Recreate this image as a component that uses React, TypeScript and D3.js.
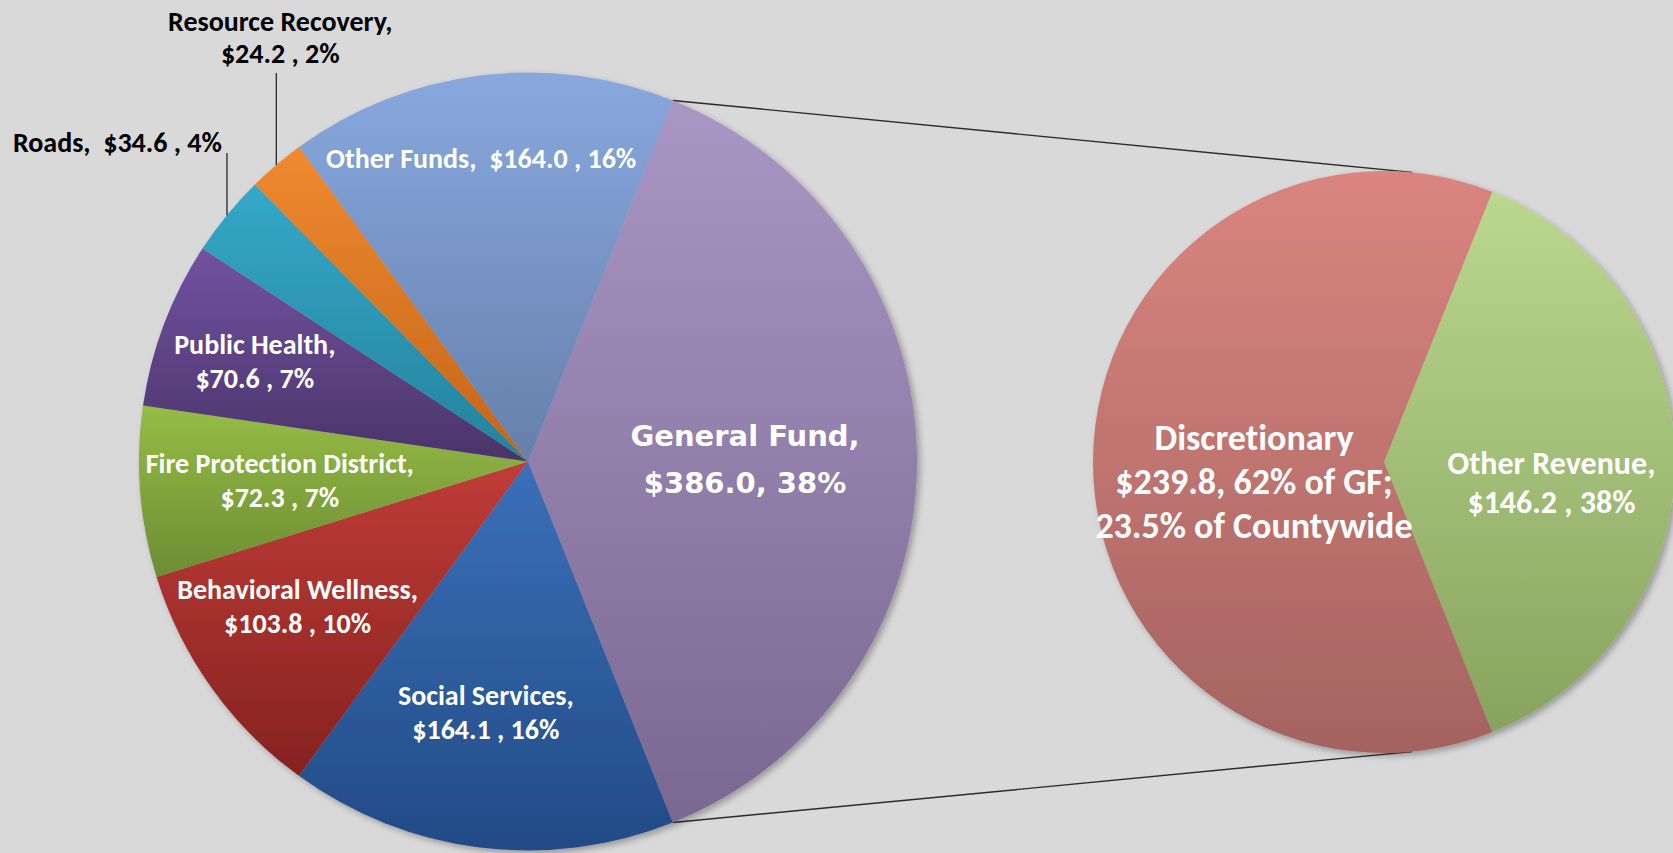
import React from 'react';
import * as d3 from 'd3';

// ---------- DATA ----------
const mainCategories = [
  'General Fund',
  'Social Services',
  'Behavioral Wellness',
  'Fire Protection District',
  'Public Health',
  'Roads',
  'Resource Recovery',
  'Other Funds',
];
const mainValues = [386.0, 164.1, 103.8, 72.3, 70.6, 34.6, 24.2, 164.0];
const mainPercents = ['38%', '16%', '10%', '7%', '7%', '4%', '2%', '16%'];

const subCategories = ['Other Revenue', 'Discretionary'];
const subValues = [146.2, 239.8];
const subPercents = ['38%', '62% of GF'];
const discretionaryExtra = '23.5% of Countywide';

// ---------- STYLE / LAYOUT ----------
const W = 1673;
const H = 853;
const BG = '#D9D9D9';
const FONT = "Carlito, Calibri, 'Liberation Sans Narrow', Lato, sans-serif";
const FONT_GF = "'DejaVu Sans', Verdana, sans-serif";

const mainColors: [string, string][] = [
  ['#A996C4', '#7A6891'],
  ['#3B70B9', '#224B85'],
  ['#C03C38', '#85221F'],
  ['#96BC46', '#6C8D33'],
  ['#7252A2', '#4A3468'],
  ['#35A8C8', '#24829D'],
  ['#F08A30', '#C46418'],
  ['#88A8DE', '#6580AB'],
];
const subColors: [string, string][] = [
  ['#BCD88F', '#87A35E'],
  ['#DA857F', '#A46360'],
];

const MAIN = { cx: 528, cy: 461.5, r: 389 };
const SUB = { cx: 1384, cy: 462, r: 291 };

// inside label placement: radius factor, angle offset (deg), line height, font size
type InLab = { rf: number; da: number; lh: number; size: number; family: string; dy?: number };
const mainLabelLayout: (InLab | null)[] = [
  { rf: 0.558, da: 0.5, lh: 47, size: 29, family: FONT_GF, dy: -3 },
  { rf: 0.656, da: 2.4, lh: 34, size: 28, family: FONT },
  { rf: 0.70, da: 3.4, lh: 34, size: 28, family: FONT },
  { rf: 0.64, da: 0, lh: 34, size: 28, family: FONT },
  { rf: 0.748, da: -0.6, lh: 34, size: 28, family: FONT },
  null,
  null,
  { rf: 0.787, da: -1.7, lh: 34, size: 28, family: FONT },
];
// outside labels: leader top y and text placement
const outsideLayout: Record<number, { top: number; anchor: 'end' | 'middle'; dx: number; lh: number }> = {
  5: { top: 153, anchor: 'end', dx: -5, lh: 34 },
  6: { top: 73, anchor: 'middle', dx: 4, lh: 31.6 },
};
const subLabelLayout: InLab[] = [
  { rf: 0.58, da: 7.1, lh: 39.6, size: 32, family: FONT },
  { rf: 0.452, da: -8.7, lh: 44, size: 36, family: FONT },
];

function mainLines(i: number): string[] {
  const v = `$${mainValues[i].toFixed(1)}`;
  const name = mainCategories[i];
  if (i === 0) return [`${name},`, `${v}, ${mainPercents[i]}`];
  if (i === 5 || i === 7) return [`${name},  ${v} , ${mainPercents[i]}`];
  return [`${name},`, `${v} , ${mainPercents[i]}`];
}
function subLines(i: number): string[] {
  const v = `$${subValues[i].toFixed(1)}`;
  if (i === 0) return [`${subCategories[i]},`, `${v} , ${subPercents[i]}`];
  return [subCategories[i], `${v}, ${subPercents[i]};`, discretionaryExtra];
}

const toRad = (d: number) => (d * Math.PI) / 180;
const polar = (c: { cx: number; cy: number }, r: number, a: number) => [c.cx + r * Math.sin(a), c.cy - r * Math.cos(a)];

const textStyle: React.CSSProperties = { whiteSpace: 'pre', fontVariantLigatures: 'none' };

export default function App() {
  const mainTotal = d3.sum(mainValues);
  const mainStart = Math.PI / 2 - (mainValues[0] / mainTotal) * Math.PI;
  const mainArcs = d3
    .pie<number>()
    .sort(null)
    .startAngle(mainStart)
    .endAngle(mainStart + 2 * Math.PI)(mainValues);

  const subTotal = d3.sum(subValues);
  const subStart = Math.PI / 2 - (subValues[0] / subTotal) * Math.PI;
  const subArcs = d3
    .pie<number>()
    .sort(null)
    .startAngle(subStart)
    .endAngle(subStart + 2 * Math.PI)(subValues);

  const mainArc = d3.arc<d3.PieArcDatum<number>>().innerRadius(0).outerRadius(MAIN.r);
  const subArc = d3.arc<d3.PieArcDatum<number>>().innerRadius(0).outerRadius(SUB.r);

  const gf = mainArcs[0];
  const tieOffset = 0.097;
  const [t1x, t1y] = polar(MAIN, MAIN.r, gf.startAngle);
  const [t2x, t2y] = polar(MAIN, MAIN.r, gf.endAngle);
  const [s1x, s1y] = polar(SUB, SUB.r, tieOffset);
  const [s2x, s2y] = polar(SUB, SUB.r, Math.PI - tieOffset);

  const renderLines = (lines: string[], x: number, cy: number, lab: InLab, fill: string, key: string) => {
    const n = lines.length;
    const yc = cy + (lab.dy || 0);
    return (
      <text
        key={key}
        x={x}
        textAnchor="middle"
        fontFamily={lab.family}
        fontWeight="bold"
        fontSize={lab.size}
        fill={fill}
        style={textStyle}
      >
        {lines.map((l, j) => (
          <tspan key={j} x={x} y={yc + (j - (n - 1) / 2) * lab.lh + 0.33 * lab.size}>
            {l}
          </tspan>
        ))}
      </text>
    );
  };

  return (
    <svg
      width={W}
      height={H}
      style={{ position: 'absolute', left: 0, top: 0, display: 'block' }}
    >
      <defs>
        {mainColors.map((c, i) => (
          <linearGradient key={i} id={`mg${i}`} x1="0" y1="0" x2="0" y2="1">
            <stop offset="0" stopColor={c[0]} />
            <stop offset="1" stopColor={c[1]} />
          </linearGradient>
        ))}
        {subColors.map((c, i) => (
          <linearGradient key={i} id={`sg${i}`} x1="0" y1="0" x2="0" y2="1">
            <stop offset="0" stopColor={c[0]} />
            <stop offset="1" stopColor={c[1]} />
          </linearGradient>
        ))}
        <filter id="shadow" x="-10%" y="-10%" width="120%" height="120%">
          <feDropShadow dx="3" dy="3" stdDeviation="3" floodColor="#000" floodOpacity="0.3" />
        </filter>
      </defs>
      <rect x={0} y={0} width={W} height={H} fill={BG} />

      {/* tie lines */}
      <line x1={t1x} y1={t1y} x2={s1x} y2={s1y} stroke="#2a2a2a" strokeWidth={1.4} />
      <line x1={t2x} y1={t2y} x2={s2x} y2={s2y} stroke="#2a2a2a" strokeWidth={1.4} />

      {/* main pie */}
      <g transform={`translate(${MAIN.cx},${MAIN.cy})`} filter="url(#shadow)">
        {mainArcs.map((a, i) => (
          <path key={i} d={mainArc(a) || ''} fill={`url(#mg${i})`} />
        ))}
      </g>

      {/* sub pie */}
      <g transform={`translate(${SUB.cx},${SUB.cy})`} filter="url(#shadow)">
        {subArcs.map((a, i) => (
          <path key={i} d={subArc(a) || ''} fill={`url(#sg${i})`} />
        ))}
      </g>

      {/* main labels inside */}
      {mainArcs.map((a, i) => {
        const lab = mainLabelLayout[i];
        if (!lab) return null;
        const mid = (a.startAngle + a.endAngle) / 2 + toRad(lab.da);
        const [x, y] = polar(MAIN, MAIN.r * lab.rf, mid);
        return renderLines(mainLines(i), x, y, lab, '#FFFFFF', `ml${i}`);
      })}

      {/* outside labels with leaders */}
      {Object.keys(outsideLayout).map((k) => {
        const i = +k;
        const o = outsideLayout[i];
        const a = mainArcs[i];
        const mid = (a.startAngle + a.endAngle) / 2;
        const [x, y] = polar(MAIN, MAIN.r, mid);
        const lines = mainLines(i);
        const n = lines.length;
        return (
          <g key={`ol${i}`}>
            <line x1={x} y1={y} x2={x} y2={o.top} stroke="#1a1a1a" strokeWidth={1.2} />
            <text
              textAnchor={o.anchor}
              fontFamily={FONT}
              fontWeight="bold"
              fontSize={28}
              fill="#000"
              style={textStyle}
            >
              {lines.map((l, j) => (
                <tspan key={j} x={x + o.dx} y={o.top - (n === 1 ? 1.5 : 10) - (n - 1 - j) * o.lh}>
                  {l}
                </tspan>
              ))}
            </text>
          </g>
        );
      })}

      {/* sub labels */}
      {subArcs.map((a, i) => {
        const lab = subLabelLayout[i];
        const mid = (a.startAngle + a.endAngle) / 2 + toRad(lab.da);
        const [x, y] = polar(SUB, SUB.r * lab.rf, mid);
        return renderLines(subLines(i), x, y, lab, '#FFFFFF', `sl${i}`);
      })}
    </svg>
  );
}
